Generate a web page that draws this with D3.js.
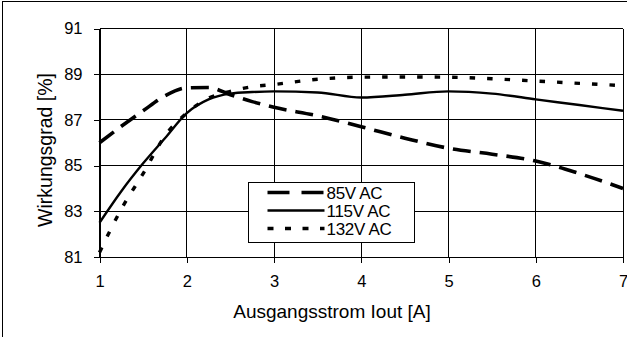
<!DOCTYPE html>
<html>
<head>
<meta charset="utf-8">
<script src="https://cdn.jsdelivr.net/npm/d3@7"></script>
<style>
	body { margin: 0; background: #fff; }
	svg { display: block; font-family: 'Liberation Sans', Arial, sans-serif; }
</style>
</head>
<body>
<div id="chart"></div>
<script>
// Ausgangsstrom [A]
const current = [ 1, 1.25, 1.5, 1.75, 2, 2.25, 2.5, 2.75, 3, 3.5, 4, 4.5, 5, 5.5, 6, 6.5, 7 ];
// Wirkungsgrad [%] per input voltage
const eff85 = [ 86.0, 86.72, 87.4, 88.05, 88.4, 88.42, 88.1, 87.8, 87.55, 87.18, 86.7, 86.2, 85.76, 85.5, 85.2, 84.65, 84.0 ];
const eff115 = [ 82.5, 83.88, 85.1, 86.2, 87.3, 87.9, 88.15, 88.22, 88.25, 88.2, 87.98, 88.1, 88.25, 88.15, 87.9, 87.65, 87.4 ];
const eff132 = [ 81.2, 83.1, 84.65, 86.3, 87.3, 87.95, 88.25, 88.45, 88.55, 88.78, 88.87, 88.88, 88.87, 88.8, 88.7, 88.6, 88.5 ];
const seriesNames = [ '85V AC', '115V AC', '132V AC' ];
const xTicks = [ 1, 2, 3, 4, 5, 6, 7 ];
const yTicks = [ 81, 83, 85, 87, 89, 91 ];

let dimensions = {
	width  : 627,
	height : 337,
	margin : {
		top    : 28,
		right  : 4,
		bottom : 80,
		left   : 99
	}
};
dimensions.boundedWidth = dimensions.width - dimensions.margin.left - dimensions.margin.right;
dimensions.boundedHeight = dimensions.height - dimensions.margin.top - dimensions.margin.bottom;

const svg = d3
	.select('#chart')
	.append('svg')
	.attr('width', dimensions.width)
	.attr('height', dimensions.height);

// outer frame
svg
	.append('rect')
	.attr('x', 2.5)
	.attr('y', 1.5)
	.attr('width', 640)
	.attr('height', 350)
	.attr('fill', 'none')
	.attr('stroke', '#000');

const x = d3.scaleLinear().domain([ 1, 7 ]).range([ 99.5, 623 ]);
const y = d3.scaleLinear().domain([ 81, 91 ]).range([ 257, 28.5 ]);

// grid
const grid = svg.append('g').attr('stroke', '#000').attr('stroke-width', 1).attr('shape-rendering', 'crispEdges');
grid
	.selectAll('.hgrid')
	.data(yTicks)
	.enter()
	.append('line')
	.attr('x1', x(1))
	.attr('x2', x(7))
	.attr('y1', (d) => y(d))
	.attr('y2', (d) => y(d));
grid
	.selectAll('.vgrid')
	.data(xTicks)
	.enter()
	.append('line')
	.attr('x1', (d) => x(d))
	.attr('x2', (d) => x(d))
	.attr('y1', y(81))
	.attr('y2', y(91));

// axes (outer tick marks + labels)
const xAxis = svg
	.append('g')
	.attr('transform', `translate(0, ${y(81)})`)
	.call(d3.axisBottom(x).tickValues(xTicks).tickFormat(d3.format('d')).tickSizeInner(6).tickSizeOuter(0).tickPadding(12));
const yAxis = svg
	.append('g')
	.attr('transform', `translate(${x(1)}, 0)`)
	.call(d3.axisLeft(y).tickValues(yTicks).tickFormat(d3.format('d')).tickSizeInner(6).tickSizeOuter(0).tickPadding(11));

[ xAxis, yAxis ].forEach(function(a) {
	a.selectAll('line').attr('stroke', '#000').attr('shape-rendering', 'crispEdges');
	a.select('.domain').attr('stroke', '#000').attr('shape-rendering', 'crispEdges');
	a.selectAll('text').attr('font-size', '16.5px').attr('fill', '#000').attr('font-family', "'Liberation Sans', Arial, sans-serif");
});

// axis titles
svg
	.append('text')
	.text('Ausgangsstrom Iout [A]')
	.attr('x', 332)
	.attr('y', 318)
	.attr('text-anchor', 'middle')
	.attr('font-size', '19px');

svg
	.append('text')
	.text('Wirkungsgrad [%]')
	.attr('transform', 'translate(52, 150) rotate(-90)')
	.attr('text-anchor', 'middle')
	.attr('font-size', '19.5px');

// lines
const styles = [
	{ values: eff85, width: 3.6, dash: '18,9' },
	{ values: eff115, width: 2.4, dash: null },
	{ values: eff132, width: 3.4, dash: '5.5,12' }
];

const line = d3.line().x((d) => x(d[0])).y((d) => y(d[1])).curve(d3.curveMonotoneX);

styles.forEach(function(s) {
	svg
		.append('path')
		.datum(current.map((c, i) => [ c, s.values[i] ]))
		.attr('fill', 'none')
		.attr('stroke', '#000')
		.attr('stroke-width', s.width)
		.attr('stroke-dasharray', s.dash)
		.attr('d', line);
});

// legend
const legend = svg.append('g').attr('transform', 'translate(248.5, 182.5)');
legend
	.append('rect')
	.attr('width', 166)
	.attr('height', 60)
	.attr('fill', '#fff')
	.attr('stroke', '#000');

const legendRows = legend
	.selectAll('.row')
	.data(seriesNames)
	.enter()
	.append('g')
	.attr('transform', (d, i) => `translate(0, ${10 + i * 18})`);

legendRows
	.append('line')
	.attr('x1', 19)
	.attr('x2', 76)
	.attr('y1', 0)
	.attr('y2', 0)
	.attr('stroke', '#000')
	.attr('stroke-width', (d, i) => styles[i].width)
	.attr('stroke-dasharray', (d, i) => (i == 0 ? '22,12' : i == 2 ? '6,11.5' : null));

legendRows
	.append('text')
	.text((d) => d)
	.attr('x', 78)
	.attr('y', 6)
	.attr('font-size', '17px')
	.attr('letter-spacing', '-0.3px');
</script>
</body>
</html>
